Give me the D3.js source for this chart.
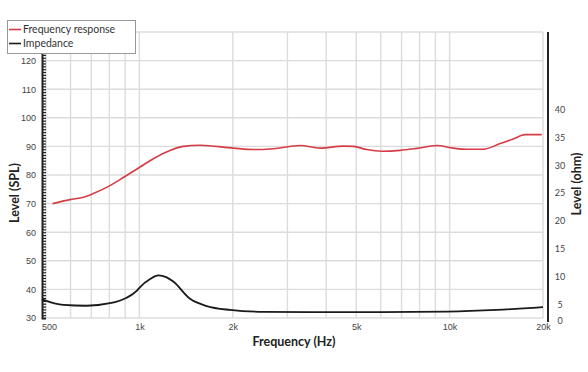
<!DOCTYPE html>
<html>
<head>
<meta charset="utf-8">
<script src="https://cdn.jsdelivr.net/npm/d3@7"></script>
<style>
  body { margin: 0; background: #fff; }
  svg { display: block; font-family: Lato, "Open Sans", sans-serif; }
  .grid line { stroke: #dcdcdc; stroke-width: 1.4; }
  .tick text { fill: #444; font-size: 9px; }
  .title { font-weight: bold; font-size: 12.5px; fill: #222; }
</style>
</head>
<body>
<script>
// frequency response (Hz, dB SPL)
const frFreq  = [525, 597, 660, 710, 804, 866, 1005, 1109, 1255, 1385, 1568, 2008, 2330, 2703, 3296, 3822, 4545, 4893, 5405, 6041, 6920, 7834, 9088, 10280, 11355, 12843, 14539, 16049, 17510, 19815];
const frLevel = [70.0, 71.4, 72.2, 73.5, 76.3, 78.4, 82.8, 85.7, 88.6, 90.0, 90.4, 89.4, 88.9, 89.2, 90.3, 89.4, 90.1, 90.0, 88.9, 88.3, 88.6, 89.3, 90.3, 89.4, 89.0, 89.0, 91.0, 92.6, 94.1, 94.1];

// impedance (Hz, ohm)
const impFreq = [485, 569, 676, 804, 910, 980, 1005, 1080, 1151, 1220, 1286, 1456, 1649, 1960, 2509, 3548, 5965, 9787, 14190, 20000];
const impOhm  = [6.0, 5.0, 4.85, 5.3, 6.3, 7.5, 8.2, 9.6, 10.3, 10.0, 9.2, 6.1, 4.8, 4.1, 3.75, 3.7, 3.7, 3.8, 4.1, 4.6];

const gridFreqs = [500, 600, 700, 800, 900, 1000, 2000, 3000, 4000, 5000, 6000, 7000, 8000, 9000, 10000, 20000];
const freqLabels = [500, 1000, 2000, 5000, 10000, 20000];
const freqText = ["500", "1k", "2k", "5k", "10k", "20k"];
const splTicks = [30, 40, 50, 60, 70, 80, 90, 100, 110, 120, 130];
const ohmTicks = [0, 5, 10, 15, 20, 25, 30, 35, 40];

const width = 588, height = 372;
const plotLeft = 46, plotRight = 543, plotTop = 32, plotBottom = 318;

const svg = d3.select("body").append("svg")
    .attr("width", width)
    .attr("height", height);

const x = d3.scaleLog().domain([500, 20000]).range([plotLeft, plotRight]);
const y = d3.scaleLinear().domain([30, 130]).range([plotBottom, plotTop]);
const yOhm = d3.scaleLinear().domain([2.65, 54]).range([plotBottom, plotTop]);

// grid
const grid = svg.append("g").attr("class", "grid");
grid.selectAll(".v").data(gridFreqs).enter().append("line")
    .attr("x1", d => x(d)).attr("x2", d => x(d))
    .attr("y1", plotTop).attr("y2", plotBottom);
grid.selectAll(".h").data(splTicks).enter().append("line")
    .attr("x1", plotLeft).attr("x2", plotRight)
    .attr("y1", d => y(d)).attr("y2", d => y(d));

// x labels
svg.append("g")
    .attr("transform", `translate(0,${plotBottom})`)
    .call(d3.axisBottom(x).tickValues(freqLabels).tickSize(0).tickPadding(6)
        .tickFormat((d, i) => freqText[i]))
    .call(g => g.select(".domain").remove())
    .call(g => g.selectAll(".tick text").attr("dx", d => d === 500 ? 3 : 0));

// left axis: minor ticks every 1 dB, labels every 10
const leftAxis = svg.append("g").attr("transform", `translate(42,0)`);
leftAxis.call(d3.axisLeft(y).tickValues(d3.range(30, 131, 1)).tickSize(-4).tickPadding(6)
    .tickFormat(d => d % 10 === 0 && d < 130 ? d : ""));
leftAxis.select(".domain").attr("stroke", "#222").attr("stroke-width", 2);
leftAxis.selectAll(".tick line").attr("stroke", "#222").attr("stroke-width", 1.2);

// right axis (ohm)
const rightAxis = svg.append("g").attr("transform", `translate(548,0)`);
rightAxis.append("line")
    .attr("y1", plotTop).attr("y2", plotBottom + 4)
    .attr("stroke", "#222").attr("stroke-width", 2);
rightAxis.selectAll("text").data(ohmTicks).enter().append("text")
    .attr("x", 12)
    .attr("y", d => Math.min(yOhm(d), plotBottom + 3))
    .attr("dy", "0.32em")
    .attr("text-anchor", "middle")
    .attr("fill", "#444")
    .style("font-size", "9px")
    .text(d => d);

// curves
const line = d3.line()
    .x(d => x(d[0]))
    .curve(d3.curveMonotoneX);

svg.append("path")
    .datum(d3.zip(impFreq, impOhm))
    .attr("fill", "none")
    .attr("stroke", "#1a1a1a")
    .attr("stroke-width", 1.8)
    .attr("d", line.y(d => yOhm(d[1])));

svg.append("path")
    .datum(d3.zip(frFreq, frLevel))
    .attr("fill", "none")
    .attr("stroke", "#d63c46")
    .attr("stroke-width", 1.6)
    .attr("d", line.y(d => y(d[1])));

// titles
svg.append("text").attr("class", "title")
    .attr("x", 294).attr("y", 346).attr("text-anchor", "middle")
    .text("Frequency (Hz)");
svg.append("text").attr("class", "title")
    .attr("transform", "translate(19,193) rotate(-90)").attr("text-anchor", "middle")
    .text("Level (SPL)");
svg.append("text").attr("class", "title")
    .attr("transform", "translate(581,184) rotate(-90)").attr("text-anchor", "middle")
    .text("Level (ohm)");

// legend
const legend = svg.append("g");
legend.append("rect")
    .attr("x", 7.5).attr("y", 20.5).attr("width", 128).attr("height", 33)
    .attr("fill", "#fff").attr("stroke", "#999");
const items = [["Frequency response", "#d63c46"], ["Impedance", "#1a1a1a"]];
items.forEach(([name, c], i) => {
    const ly = 29.5 + i * 14;
    legend.append("line")
        .attr("x1", 9).attr("x2", 21).attr("y1", ly).attr("y2", ly)
        .attr("stroke", c).attr("stroke-width", 1.6);
    legend.append("text")
        .attr("x", 23).attr("y", ly).attr("dy", "0.35em")
        .attr("fill", "#333").style("font-size", "10.5px")
        .text(name);
});
</script>
</body>
</html>
